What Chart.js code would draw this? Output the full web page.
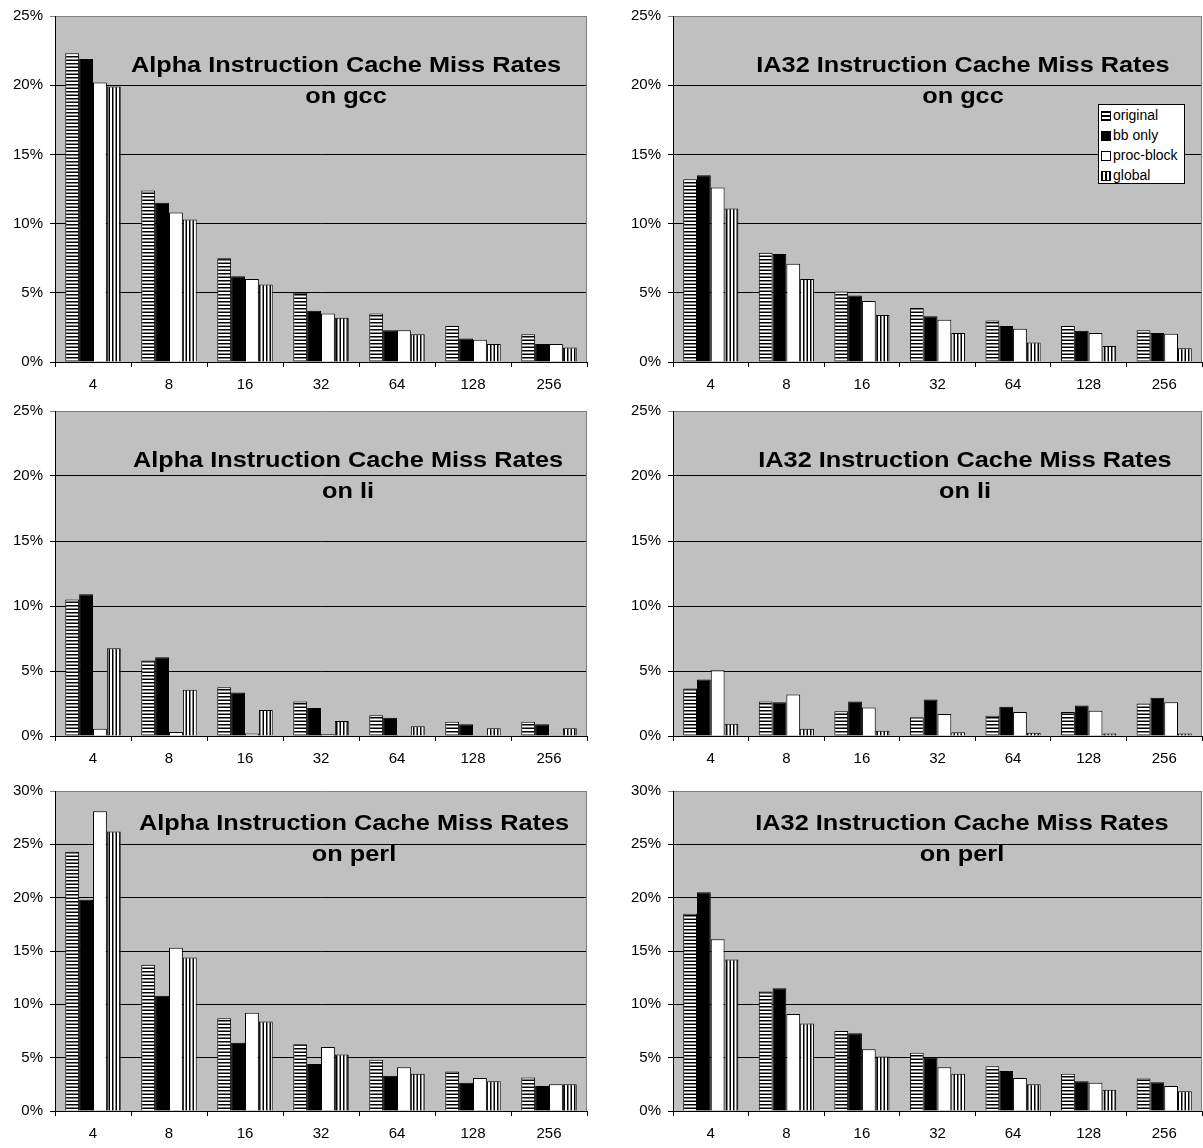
<!DOCTYPE html>
<html>
<head>
<meta charset="utf-8">
<script src="https://cdn.jsdelivr.net/npm/chart.js@4.4.1/dist/chart.umd.min.js"></script>
<style>
    body { margin: 0; background: #fff; width: 1203px; height: 1148px; position: relative; overflow: hidden; font-family: "Liberation Sans", Arial, sans-serif; }
    canvas { position: absolute; }
    .title { position: absolute; font-weight: bold; font-size: 22px; line-height: 31px; text-align: center; white-space: nowrap; transform: translateX(-50%) scaleX(1.15); color: #000; }
    .legend { position: absolute; left: 1098px; top: 104px; width: 85px; height: 78px; background: #fff; border: 1px solid #000; font-size: 14px; }
    .legend div { height: 20px; line-height: 20px; white-space: nowrap; padding-left: 2px; }
    .legend span.sw { display: inline-block; width: 8px; height: 8px; border: 1px solid #000; margin-right: 2px; vertical-align: -1px; }
</style>
</head>
<body>
<canvas id="alphaGcc"></canvas>
<canvas id="ia32Gcc"></canvas>
<canvas id="alphaLi"></canvas>
<canvas id="ia32Li"></canvas>
<canvas id="alphaPerl"></canvas>
<canvas id="ia32Perl"></canvas>
<div class="legend">
    <div><span class="sw" style="background:repeating-linear-gradient(#000 0 1.5px,#fff 1.5px 3.5px)"></span>original</div>
    <div><span class="sw" style="background:#000"></span>bb only</div>
    <div><span class="sw" style="background:#fff"></span>proc-block</div>
    <div><span class="sw" style="background:repeating-linear-gradient(90deg,#000 0 1.5px,#fff 1.5px 3.5px)"></span>global</div>
</div>
<script>
const cacheSizes = ['4', '8', '16', '32', '64', '128', '256'];
const seriesNames = ['original', 'bb only', 'proc-block', 'global'];

// miss rates in percent
const alphaGccOriginal = [22.3, 12.4, 7.5, 5.0, 3.5, 2.6, 2.0];
const alphaGccBbOnly = [21.9, 11.5, 6.2, 3.7, 2.3, 1.7, 1.3];
const alphaGccProcBlock = [20.2, 10.8, 6.0, 3.5, 2.3, 1.6, 1.3];
const alphaGccGlobal = [19.9, 10.3, 5.6, 3.2, 2.0, 1.3, 1.05];

const ia32GccOriginal = [13.2, 7.9, 5.1, 3.9, 3.0, 2.6, 2.3];
const ia32GccBbOnly = [13.5, 7.8, 4.8, 3.3, 2.6, 2.25, 2.1];
const ia32GccProcBlock = [12.6, 7.1, 4.4, 3.05, 2.4, 2.1, 2.05];
const ia32GccGlobal = [11.1, 6.0, 3.4, 2.1, 1.4, 1.15, 1.0];

const alphaLiOriginal = [10.5, 5.8, 3.75, 2.65, 1.6, 1.1, 1.1];
const alphaLiBbOnly = [10.9, 6.05, 3.35, 2.15, 1.4, 0.9, 0.9];
const alphaLiProcBlock = [0.55, 0.3, 0.2, 0.13, 0.08, 0.05, 0.05];
const alphaLiGlobal = [6.75, 3.55, 2.0, 1.15, 0.75, 0.6, 0.6];

const ia32LiOriginal = [3.65, 2.65, 1.9, 1.45, 1.55, 1.85, 2.5];
const ia32LiBbOnly = [4.35, 2.6, 2.65, 2.8, 2.25, 2.35, 2.95];
const ia32LiProcBlock = [5.05, 3.2, 2.2, 1.7, 1.85, 1.95, 2.6];
const ia32LiGlobal = [0.95, 0.55, 0.4, 0.28, 0.25, 0.2, 0.2];

const alphaPerlOriginal = [24.3, 13.7, 8.7, 6.25, 4.8, 3.7, 3.15];
const alphaPerlBbOnly = [19.8, 10.8, 6.4, 4.4, 3.3, 2.65, 2.35];
const alphaPerlProcBlock = [28.1, 15.3, 9.2, 6.0, 4.1, 3.1, 2.5];
const alphaPerlGlobal = [26.2, 14.4, 8.4, 5.3, 3.5, 2.8, 2.5];

const ia32PerlOriginal = [18.5, 11.2, 7.5, 5.45, 4.2, 3.5, 3.05];
const ia32PerlBbOnly = [20.5, 11.5, 7.3, 5.0, 3.75, 2.8, 2.7];
const ia32PerlProcBlock = [16.1, 9.1, 5.8, 4.1, 3.1, 2.65, 2.35];
const ia32PerlGlobal = [14.2, 8.2, 5.1, 3.5, 2.5, 2.0, 1.85];

const yTickStep = 5;
const fontFamily = '"Liberation Sans", Arial, sans-serif';

function stripes(horizontal) {
    const c = document.createElement('canvas');
    c.width = 7; c.height = 7;
    const g = c.getContext('2d');
    g.fillStyle = '#fff';
    g.fillRect(0, 0, 7, 7);
    g.fillStyle = '#000';
    if (horizontal) {
        g.fillRect(0, 0, 7, 1.5);
        g.fillRect(0, 3.5, 7, 1.5);
    } else {
        g.fillRect(0, 0, 1.5, 7);
        g.fillRect(3.5, 0, 1.5, 7);
    }
    return g.createPattern(c, 'repeat');
}

const fills = [stripes(true), '#000', '#fff', stripes(false)];

const plotBg = {
    id: 'plotBg',
    beforeDraw(chart) {
        const a = chart.chartArea, ctx = chart.ctx;
        ctx.save();
        ctx.fillStyle = '#c0c0c0';
        ctx.fillRect(a.left, a.top, a.right - a.left, a.bottom - a.top);
        ctx.restore();
    },
    afterDraw(chart) {
        const a = chart.chartArea, ctx = chart.ctx;
        ctx.save();
        ctx.strokeStyle = '#808080';
        ctx.lineWidth = 1;
        ctx.beginPath();
        ctx.moveTo(a.right - 0.5, a.top);
        ctx.lineTo(a.right - 0.5, a.bottom);
        ctx.stroke();
        ctx.restore();
    }
};

const panels = [
    { id: 'alphaGcc', series: [alphaGccOriginal, alphaGccBbOnly, alphaGccProcBlock, alphaGccGlobal], max: 25,
      title: ['Alpha Instruction Cache Miss Rates', 'on gcc'], left: 0, top: 0, w: 600, h: 400, padTop: 13, xH: 38, yW: 55, padRight: 13, tx: 346, ty: 49 },
    { id: 'ia32Gcc', series: [ia32GccOriginal, ia32GccBbOnly, ia32GccProcBlock, ia32GccGlobal], max: 25,
      title: ['IA32 Instruction Cache Miss Rates', 'on gcc'], left: 600, top: 0, w: 603, h: 400, padTop: 13, xH: 38, yW: 73, padRight: 1, tx: 963, ty: 49 },
    { id: 'alphaLi', series: [alphaLiOriginal, alphaLiBbOnly, alphaLiProcBlock, alphaLiGlobal], max: 25,
      title: ['Alpha Instruction Cache Miss Rates', 'on li'], left: 0, top: 395, w: 600, h: 380, padTop: 15, xH: 39, yW: 55, padRight: 13, tx: 348, ty: 444 },
    { id: 'ia32Li', series: [ia32LiOriginal, ia32LiBbOnly, ia32LiProcBlock, ia32LiGlobal], max: 25,
      title: ['IA32 Instruction Cache Miss Rates', 'on li'], left: 600, top: 395, w: 603, h: 380, padTop: 15, xH: 39, yW: 73, padRight: 1, tx: 965, ty: 444 },
    { id: 'alphaPerl', series: [alphaPerlOriginal, alphaPerlBbOnly, alphaPerlProcBlock, alphaPerlGlobal], max: 30,
      title: ['Alpha Instruction Cache Miss Rates', 'on perl'], left: 0, top: 775, w: 600, h: 373, padTop: 9, xH: 37, yW: 55, padRight: 13, tx: 354, ty: 807 },
    { id: 'ia32Perl', series: [ia32PerlOriginal, ia32PerlBbOnly, ia32PerlProcBlock, ia32PerlGlobal], max: 30,
      title: ['IA32 Instruction Cache Miss Rates', 'on perl'], left: 600, top: 775, w: 603, h: 373, padTop: 9, xH: 37, yW: 73, padRight: 1, tx: 962, ty: 807 }
];

panels.forEach(p => {
    const canvas = document.getElementById(p.id);
    canvas.width = p.w;
    canvas.height = p.h;
    canvas.style.left = p.left + 'px';
    canvas.style.top = p.top + 'px';

    const t = document.createElement('div');
    t.className = 'title';
    t.style.left = p.tx + 'px';
    t.style.top = p.ty + 'px';
    t.innerHTML = p.title.join('<br>');
    document.body.insertBefore(t, document.querySelector('.legend'));

    new Chart(canvas, {
        type: 'bar',
        data: {
            labels: cacheSizes,
            datasets: p.series.map((values, i) => ({
                label: seriesNames[i],
                data: values,
                backgroundColor: fills[i],
                borderColor: '#000',
                borderWidth: 1,
                categoryPercentage: 0.73,
                barPercentage: 1
            }))
        },
        options: {
            responsive: false,
            animation: false,
            layout: { padding: { top: p.padTop, right: p.padRight, left: 0, bottom: 0 } },
            plugins: { legend: { display: false }, tooltip: { enabled: false } },
            scales: {
                x: {
                    grid: { drawOnChartArea: false, color: '#000', tickLength: 5, offset: true },
                    border: { color: '#000', width: 1 },
                    ticks: { color: '#000', font: { size: 15, family: fontFamily }, padding: 9, maxRotation: 0 },
                    afterFit: s => { s.height = p.xH; }
                },
                y: {
                    min: 0,
                    max: p.max,
                    ticks: { stepSize: yTickStep, color: '#000', font: { size: 15, family: fontFamily }, padding: 7, callback: v => v + '%' },
                    grid: { color: c => (c.tick && c.tick.value === p.max) ? '#808080' : '#000', tickLength: 5 },
                    border: { color: '#000', width: 1 },
                    afterFit: s => { s.width = p.yW; }
                }
            }
        },
        plugins: [plotBg]
    });
});
</script>
</body>
</html>
